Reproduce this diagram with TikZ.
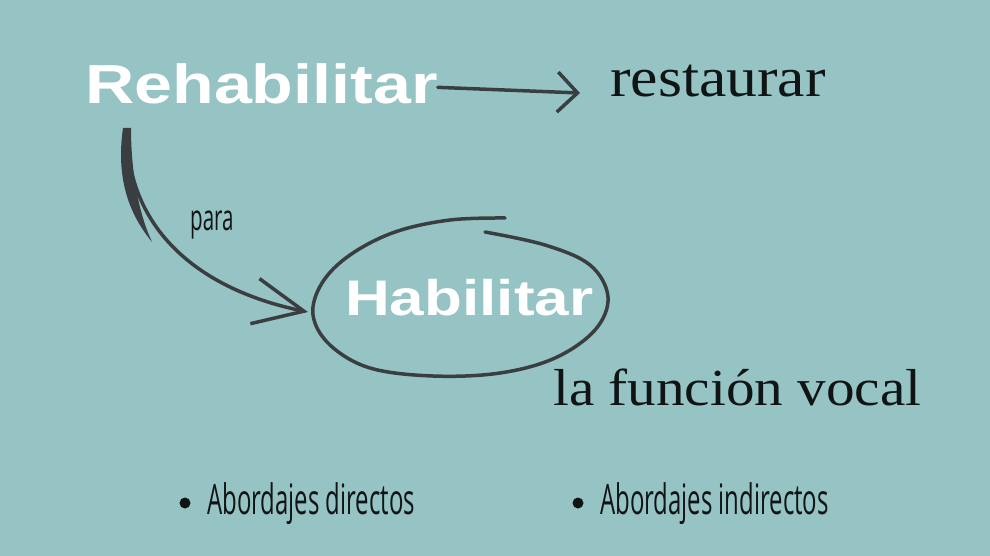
\documentclass[tikz,border=0pt]{standalone}
\usepackage{fontspec}
\usepackage{tikz}
\usetikzlibrary{calc,positioning,arrows.meta}
\setmainfont{Liberation Serif}
\newfontfamily\fonteTitulo{Liberation Sans}[FakeStretch=1.24]
\newfontfamily\fonteDeco{Liberation Serif}[FakeStretch=1.1]
\newfontfamily\fonteMao{Open Sans}[FakeStretch=0.57]
\definecolor{fundo}{HTML}{96C4C4}
\definecolor{tinta}{HTML}{3A3E41}
\definecolor{texto}{HTML}{111414}

\begin{document}
\begin{tikzpicture}[x=1pt,y=-1pt,
    titulo/.style={text=white, inner sep=0pt, anchor=base west, font=\fonteTitulo\bfseries\fontsize{55}{60}\selectfont},
    deco/.style={text=texto, inner sep=0pt, anchor=base west, font=\fonteDeco\fontsize{52}{60}\selectfont},
    mao/.style={text=texto, inner sep=0pt, anchor=base west, font=\fonteMao\fontsize{42}{46}\selectfont},
    aro/.style={draw=tinta, line width=3.5pt, line cap=round},
    flecha/.style={-{Straight Barb[length=20pt,width=40pt]}, line width=3.5pt, tinta, line cap=round},
    curva/.style={-{Straight Barb[length=50pt,width=46pt]}, line width=3.5pt, tinta, line cap=round}]
  \fill[fundo] (0,0) rectangle (990,556);
  \useasboundingbox (0,0) rectangle (990,556);
  \node[titulo] (rehab) at (85,104) {Rehabilitar};
  \node[deco, font=\fonteDeco\fontsize{56}{60}\selectfont] (rest) at (610,97) {restaurar};
  \node[titulo, font=\fonteTitulo\bfseries\fontsize{50}{60}\selectfont] (habil) at (345,315) {Habilitar};
  \node[deco] (func) at (553,405) {la función vocal};
  \node[mao, font=\fonteMao\fontsize{36}{40}\selectfont] (para) at (190,230) {para};
  % circulo a mano
  \draw[aro] plot[smooth, tension=0.6] coordinates {(485,232) (545,245) (590,265) (608,297) (595,330) (555,358) (500,373) (433,376) (370,368) (330,345) (313,315) (322,283) (350,255) (395,232) (450,220) (505,218)};
  % flechas
  \coordinate (p1) at (580,93);
  \draw[flecha] ([yshift=-3pt]rehab.east) -- (p1);
  \coordinate[below right=26pt and 42pt of rehab.south west] (ini);
  \coordinate (p2) at (308,312);
  \fill[tinta] (123,128) .. controls (117,170) and (124,208) .. (152,242) .. controls (138,212) and (131,170) .. (131,128) -- cycle;
  \draw[curva] (ini) .. controls (127,230) and (200,290) .. (p2);
  \foreach \x/\txt/\nm in {185/directos/b1, 578/indirectos/b2}{
    \fill[texto] (\x,503) circle (5.5);
    \node[mao] (\nm) at (\x+22,514) {Abordajes \txt};
  }
\end{tikzpicture}
\end{document}
